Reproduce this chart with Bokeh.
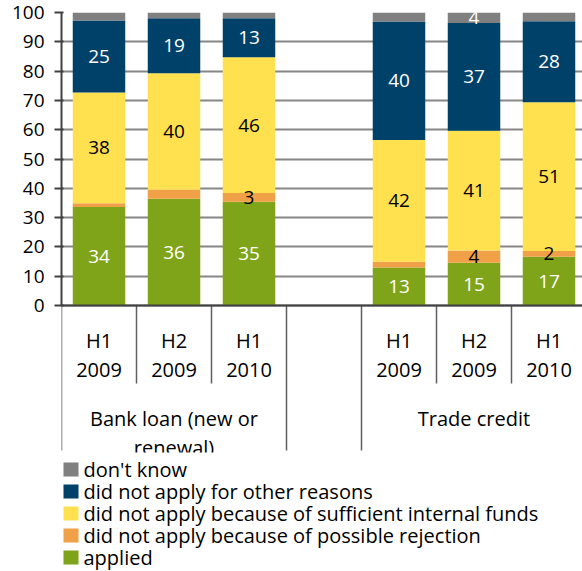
import textwrap
import numpy as np
from bokeh.plotting import figure
from bokeh.models import Range1d, ColumnDataSource, FixedTicker, Span
from bokeh.core.properties import value
from bokeh.embed import file_html
from bokeh.resources import INLINE

# ---------------- data ----------------
slot_labels = ["H1 2009", "H2 2009", "H1 2010", "", "H1 2009", "H2 2009", "H1 2010"]
group_names = ["Bank loan (new or renewal)", "Trade credit"]
group_slots = [[0, 1, 2], [4, 5, 6]]
bar_slots = [0, 1, 2, 4, 5, 6]

series_names = ["applied",
                "did not apply because of possible rejection",
                "did not apply because of sufficient internal funds",
                "did not apply for other reasons",
                "don't know"]
applied = [33.6, 36.4, 35.4, 13.0, 14.6, 16.6]
rejection = [1.3, 3.1, 3.0, 1.9, 4.2, 2.0]
internal = [37.8, 39.8, 46.3, 41.6, 40.8, 50.8]
other = [24.6, 18.7, 13.3, 40.4, 36.8, 27.6]
dont_know = [2.7, 2.0, 2.0, 3.1, 3.6, 3.0]

# segments that carry a data label in the original chart
label_applied = [True, True, True, True, True, True]
label_rejection = [False, False, True, False, True, True]
label_internal = [True, True, True, True, True, True]
label_other = [True, True, True, True, True, True]
label_dont_know = [False, False, False, False, True, False]

y_ticks = list(range(0, 101, 10))

# ---------------- style ----------------
colors = ["#7FA41A", "#F0A046", "#FFE150", "#00416A", "#808080"]
label_colors = ["white", "black", "black", "white", "white"]
FONT = "Open Sans"

W, H = 582, 571
B_LEFT, B_TOP = 61, 12
SLOT_PX = 75
AXIS_PX = 293                      # frame px from top to y=0
PPU = AXIS_PX / 100.0              # px per unit
frame_w = W - B_LEFT
frame_h = H - B_TOP
y_start = -(frame_h - AXIS_PX) / PPU
x_end = -0.5 + frame_w / SLOT_PX


def below(px):
    """data y for a point px pixels below the x axis"""
    return -px / PPU


def right_of_frame(px):
    """data x for a point px pixels right of the frame's left edge"""
    return -0.5 + px / SLOT_PX


p = figure(width=W, height=H, output_backend="svg", toolbar_location=None,
           x_range=Range1d(-0.5, x_end), y_range=Range1d(y_start, 100),
           x_axis_location=None, min_border_left=B_LEFT, min_border_right=0,
           min_border_top=B_TOP, min_border_bottom=0)
p.outline_line_color = None
p.background_fill_color = "white"
p.xgrid.visible = False

# y axis
yax = p.yaxis[0]
yax.ticker = FixedTicker(ticks=y_ticks)
yax.bounds = (0, 100)
yax.axis_line_color = "#404040"
yax.axis_line_width = 2
yax.major_tick_line_color = "#404040"
yax.major_tick_line_width = 2
yax.major_tick_out = 7
yax.major_tick_in = 2
yax.minor_tick_line_color = None
yax.major_label_text_font = FONT
yax.major_label_text_font_size = "19px"
yax.major_label_text_color = "black"
yax.major_label_standoff = 10

p.ygrid.ticker = FixedTicker(ticks=y_ticks)
p.ygrid.bounds = (0, 100)
p.ygrid.grid_line_color = "#868686"
p.ygrid.grid_line_width = 2

# stacked bars
series = [applied, rejection, internal, other, dont_know]
masks = [label_applied, label_rejection, label_internal, label_other, label_dont_know]
bottom = np.zeros(len(bar_slots))
lab_x, lab_y, lab_t, lab_c = [], [], [], []
for vals, col, lcol, mask in zip(series, colors, label_colors, masks):
    vals = np.array(vals, dtype=float)
    top = bottom + vals
    src = ColumnDataSource(dict(x=bar_slots, bottom=bottom, top=top))
    p.vbar(x="x", width=0.7, bottom="bottom", top="top", source=src,
           fill_color=col, line_color=None)
    for xs, b, v, m in zip(bar_slots, bottom, vals, mask):
        if m:
            lab_x.append(xs)
            lab_y.append(b + v / 2)
            lab_t.append(f"{round(v):.0f}")
            lab_c.append(lcol)
    bottom = top

p.text(x=lab_x, y=lab_y, text=lab_t, text_color=lab_c,
       text_font=value(FONT), text_font_size=value("19px"),
       text_align="center", text_baseline="middle")

# x axis line
p.add_layout(Span(location=0, dimension="width", line_color="#404040", line_width=2))

# category separators
n_slots = len(slot_labels)
bounds_x = [i - 0.5 for i in range(n_slots)]
group_edges = set()
for g in group_slots:
    group_edges.add(g[0] - 0.5)
    group_edges.add(g[-1] + 0.5)
x0, y1 = [], []
for bx in bounds_x:
    x0.append(bx)
    y1.append(below(145) if bx in group_edges else below(78))
p.segment(x0=x0, y0=[0] * len(x0), x1=x0, y1=y1, line_color="#5f5f5f", line_width=1.5)

# period labels
halves = [s.split(" ")[0] if s else "" for s in slot_labels]
years = [s.split(" ")[1] if s else "" for s in slot_labels]
p.text(x=list(range(n_slots)), y=[below(35)] * n_slots, text=halves,
       text_font=value(FONT), text_font_size=value("20px"), text_color="black",
       text_align="center", text_baseline="middle")
p.text(x=list(range(n_slots)), y=[below(64)] * n_slots, text=years,
       text_font=value(FONT), text_font_size=value("20px"), text_color="black",
       text_align="center", text_baseline="middle")

# group labels
gx, gy, gt = [], [], []
for name, g in zip(group_names, group_slots):
    for k, line in enumerate(textwrap.wrap(name, 17)):
        gx.append(sum(g) / len(g))
        gy.append(below(113 + 29 * k))
        gt.append(line)
p.text(x=gx, y=gy, text=gt, text_font=value(FONT), text_font_size=value("20px"),
       text_color="black", text_align="center", text_baseline="middle")

# the category area ends where the legend begins
p.quad(left=[-0.5], right=[x_end], top=[below(147)], bottom=[y_start],
       fill_color="white", line_color=None)

# legend (drawn with glyphs so that the rows keep the original's tight spacing)
leg_names = series_names[::-1]
leg_colors = colors[::-1]
row_y = [below(164 + 22 * k) for k in range(len(leg_names))]
p.rect(x=[right_of_frame(9.5)] * len(leg_names), y=row_y, width=15, height=14,
       width_units="screen", height_units="screen", fill_color=leg_colors,
       line_color=None)
p.text(x=[right_of_frame(22)] * len(leg_names), y=row_y, text=leg_names,
       text_font=value(FONT), text_font_size=value("20px"), text_color="black",
       text_align="left", text_baseline="middle")

open("out.html", "w").write(file_html(p, INLINE))
